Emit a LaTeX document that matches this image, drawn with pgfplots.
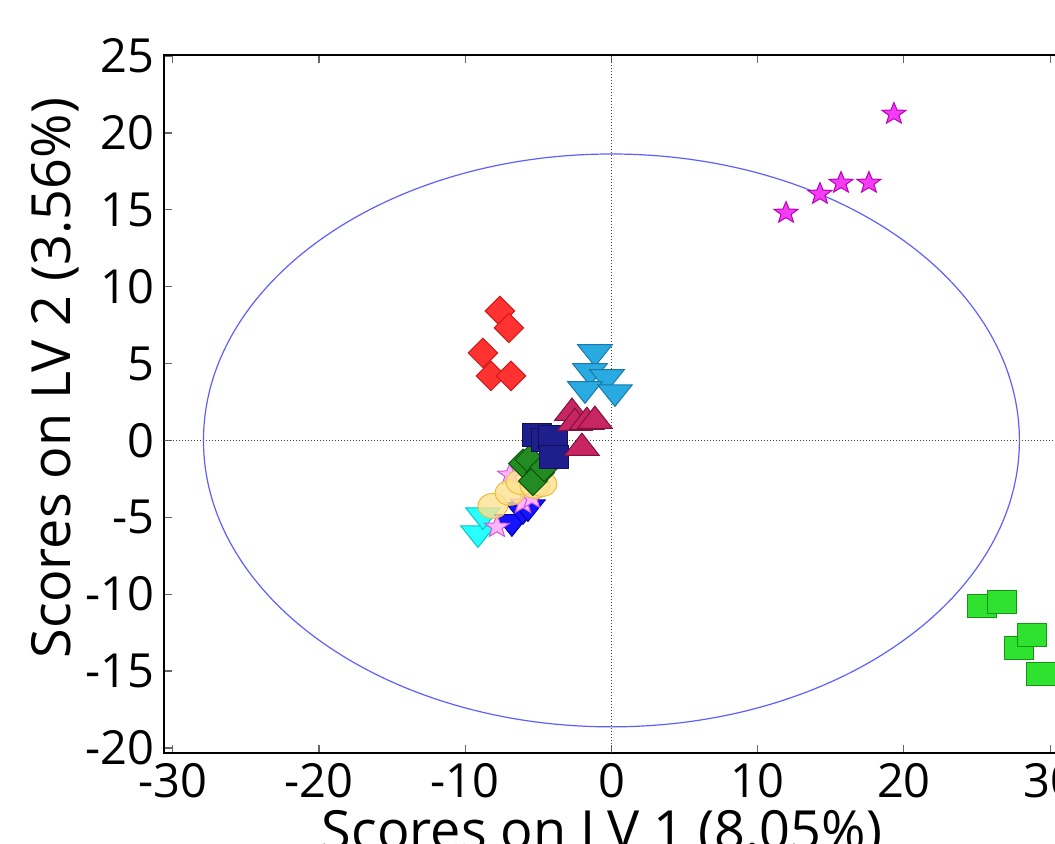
\documentclass[border=0pt]{standalone}
\usepackage{fontspec}
\setmainfont{Open Sans}
\usepackage{pgfplots}
\pgfplotsset{compat=1.18}
\pgfdeclareplotmark{fstar}{%
  \pgfpathmoveto{\pgfpointpolar{90}{\pgfplotmarksize}}%
  \pgfpathlineto{\pgfpointpolar{126}{0.42\pgfplotmarksize}}%
  \pgfpathlineto{\pgfpointpolar{162}{\pgfplotmarksize}}%
  \pgfpathlineto{\pgfpointpolar{198}{0.42\pgfplotmarksize}}%
  \pgfpathlineto{\pgfpointpolar{234}{\pgfplotmarksize}}%
  \pgfpathlineto{\pgfpointpolar{270}{0.42\pgfplotmarksize}}%
  \pgfpathlineto{\pgfpointpolar{306}{\pgfplotmarksize}}%
  \pgfpathlineto{\pgfpointpolar{342}{0.42\pgfplotmarksize}}%
  \pgfpathlineto{\pgfpointpolar{18}{\pgfplotmarksize}}%
  \pgfpathlineto{\pgfpointpolar{54}{0.42\pgfplotmarksize}}%
  \pgfpathclose
  \pgfusepathqfillstroke
}
\definecolor{magF}{RGB}{245,60,245}
\definecolor{magD}{RGB}{185,0,185}
\definecolor{limeF}{RGB}{48,226,48}
\definecolor{limeD}{RGB}{20,150,20}
\definecolor{redF}{RGB}{255,50,50}
\definecolor{redD}{RGB}{210,25,25}
\definecolor{skyF}{RGB}{41,171,226}
\definecolor{skyD}{RGB}{25,120,170}
\definecolor{crimF}{RGB}{200,38,98}
\definecolor{crimD}{RGB}{130,15,60}
\definecolor{navyF}{RGB}{30,30,140}
\definecolor{navyD}{RGB}{15,15,90}
\definecolor{fgF}{RGB}{34,140,34}
\definecolor{fgD}{RGB}{15,85,15}
\definecolor{yelF}{RGB}{255,226,145}
\definecolor{yelD}{RGB}{232,190,60}
\definecolor{cyanF}{RGB}{40,255,255}
\definecolor{cyanD}{RGB}{0,200,200}
\definecolor{bluF}{RGB}{20,20,255}
\definecolor{bluD}{RGB}{0,0,170}
\definecolor{pinkF}{RGB}{255,180,255}
\definecolor{pinkD}{RGB}{205,90,215}
\definecolor{ellC}{RGB}{95,95,255}
\newcommand{\bigf}{\fontsize{23.5}{28}\selectfont}
\newcommand{\labf}{\fontsize{27}{32}\selectfont}
\begin{document}
\begin{tikzpicture}
\path[use as bounding box] (0,0) rectangle (527.5pt,422pt);
\clip (0,0) rectangle (527.5pt,422pt);
\begin{axis}[
  at={(82pt,45.5pt)}, anchor=south west,
  scale only axis, width=472.3pt, height=349pt,
  xmin=-30.6, xmax=34, ymin=-20.33, ymax=25.07,
  axis line style={black, line width=1pt},
  tick style={black!60, line width=0.6pt},
  major tick length=4pt,
  tick align=inside,
  xtick={-30,-20,-10,0,10,20,30},
  xticklabels={-30,-20,-10,0,10,20,30},
  ytick={-20,-15,-10,-5,0,5,10,15,20,25},
  yticklabels={-20,-15,-10,-5,0,5,10,15,20,25},
  tick label style={font=\bigf, inner sep=0pt},
  xticklabel style={yshift=-5pt},
  yticklabel style={xshift=-4.5pt},
  clip marker paths=false,
]
\addplot[black!75, densely dotted, line width=0.5pt] coordinates {(0,-20.33) (0,25.07)};
\addplot[black!75, densely dotted, line width=0.5pt] coordinates {(-30.6,0) (34,0)};
\draw[ellC, line width=0.6pt] (axis cs:0,0) ellipse [x radius=27.9, y radius=18.63];
% cyan down triangles
\addplot[only marks, mark=triangle*, mark size=10pt, mark options={fill=cyanF, draw=cyanD, line width=0.5pt, solid, yscale=-0.72}] coordinates {(-9.13,-6.02) (-8.79,-4.85)};
% blue down triangles
\addplot[only marks, mark=triangle*, mark size=10pt, mark options={fill=bluF, draw=bluD, line width=0.5pt, solid, yscale=-0.72}] coordinates {(-6.81,-5.30) (-6.05,-4.52) (-5.71,-4.33)};
% pink stars
\addplot[only marks, mark=fstar, mark size=6.5pt, mark options={fill=pinkF, draw=pinkD, line width=0.5pt, solid, yscale=0.9}] coordinates {(-7.83,-5.63) (-6.05,-4.07) (-5.44,-3.74) (-6.94,-2.24)};
% yellow circles
\addplot[only marks, mark=*, mark size=7.5pt, mark options={fill=yelF, draw=yelD, line width=0.5pt, solid, yscale=0.83, fill opacity=0.8}] coordinates {(-8.11,-4.26) (-6.94,-3.41) (-6.19,-2.70) (-5.23,-2.96) (-4.75,-2.83)};
% forest green diamonds
\addplot[only marks, mark=square*, mark size=5.1pt, mark options={fill=fgF, draw=fgD, line width=0.5pt, solid, rotate=45}] coordinates {(-6.05,-1.50) (-5.60,-1.25) (-4.89,-2.10) (-5.37,-2.65) (-4.60,-1.75)};
% navy squares
\addplot[only marks, mark=square*, mark size=7.2pt, mark options={fill=navyF, draw=navyD, line width=0.5pt, solid, yscale=0.82}] coordinates {(-5.10,0.36) (-4.48,0.03) (-4.00,0.23) (-3.93,-1.07)};
% sky blue down triangles
\addplot[only marks, mark=triangle*, mark size=10pt, mark options={fill=skyF, draw=skyD, line width=0.5pt, solid, yscale=-0.72}] coordinates {(-1.13,5.76) (-1.47,4.52) (-0.31,4.13) (-1.81,3.35) (0.24,3.15)};
% crimson up triangles
\addplot[only marks, mark=triangle*, mark size=10pt, mark options={fill=crimF, draw=crimD, line width=0.5pt, solid, yscale=0.74}] coordinates {(-2.70,1.79) (-2.50,1.14) (-1.68,1.20) (-1.13,1.27) (-2.02,-0.49)};
% red diamonds
\addplot[only marks, mark=square*, mark size=5.2pt, mark options={fill=redF, draw=redD, line width=0.5pt, solid, rotate=45}] coordinates {(-7.63,8.42) (-7.01,7.32) (-8.79,5.69) (-8.24,4.20) (-6.87,4.20)};
% magenta stars
\addplot[only marks, mark=fstar, mark size=6.3pt, mark options={fill=magF, draw=magD, line width=0.5pt, solid, yscale=0.9}] coordinates {(19.32,21.24) (11.94,14.80) (14.26,16.03) (15.70,16.75) (17.61,16.75)};
% lime squares
\addplot[only marks, mark=square*, mark size=7.2pt, mark options={fill=limeF, draw=limeD, line width=0.5pt, solid, yscale=0.82}] coordinates {(25.34,-10.76) (26.71,-10.50) (27.87,-13.50) (28.76,-12.65) (29.38,-15.19)};
\end{axis}
\node[rotate=90, font=\labf] at (27.5pt,233pt) {Scores on LV 2 (3.56\%)};
\node[anchor=base, font=\labf] at (301pt,-3pt) {Scores on LV 1 (8.05\%)};
\end{tikzpicture}
\end{document}
